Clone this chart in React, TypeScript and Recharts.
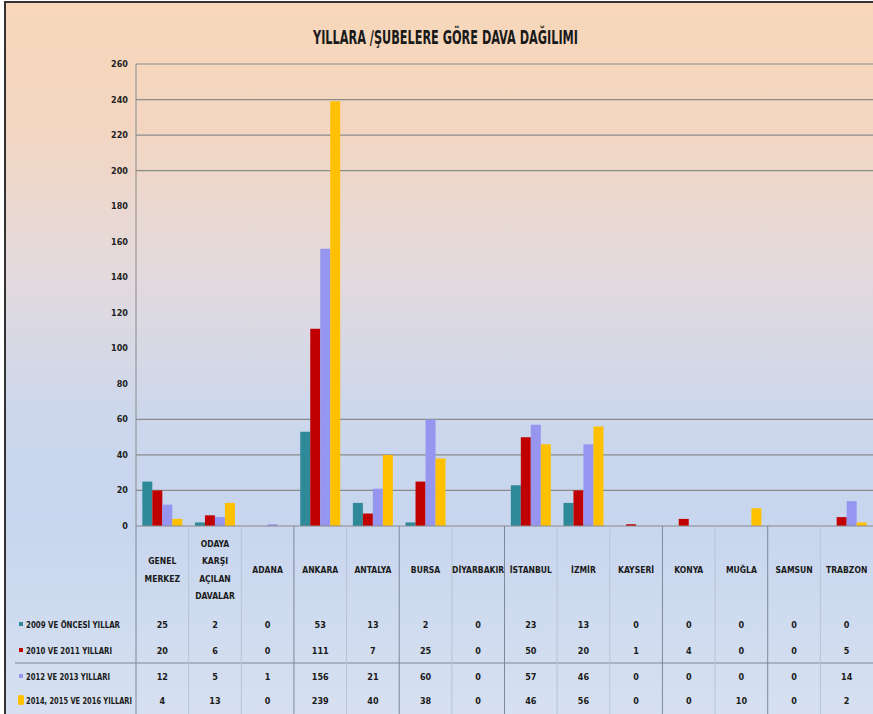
import React from 'react';
import { BarChart, Bar, XAxis, YAxis, CartesianGrid } from 'recharts';

const categories = [
  'GENEL MERKEZ',
  'ODAYA KARŞI AÇILAN DAVALAR',
  'ADANA',
  'ANKARA',
  'ANTALYA',
  'BURSA',
  'DİYARBAKIR',
  'İSTANBUL',
  'İZMİR',
  'KAYSERİ',
  'KONYA',
  'MUĞLA',
  'SAMSUN',
  'TRABZON',
];
const series2009 = [25, 2, 0, 53, 13, 2, 0, 23, 13, 0, 0, 0, 0, 0];
const series2010 = [20, 6, 0, 111, 7, 25, 0, 50, 20, 1, 4, 0, 0, 5];
const series2012 = [12, 5, 1, 156, 21, 60, 0, 57, 46, 0, 0, 0, 0, 14];
const series2014 = [4, 13, 0, 239, 40, 38, 0, 46, 56, 0, 0, 10, 0, 2];
const seriesNames = [
  '2009 VE ÖNCESİ YILLAR',
  '2010 VE 2011 YILLARI',
  '2012 VE 2013 YILLARI',
  '2014, 2015 VE 2016 YILLARI',
];
const yTicks = [0, 20, 40, 60, 80, 100, 120, 140, 160, 180, 200, 220, 240, 260];
const gridValues = [20, 40, 60, 200, 220, 240, 260];
const titleText = 'YILLARA /ŞUBELERE GÖRE DAVA DAĞILIMI';

const seriesValues = [series2009, series2010, series2012, series2014];
const seriesKeys = ['s2009', 's2010', 's2012', 's2014'];
const colors = ['#2E8A99', '#C00000', '#9696F0', '#FFC000'];

const data = categories.map((name, i) => ({
  name,
  s2009: series2009[i],
  s2010: series2010[i],
  s2012: series2012[i],
  s2014: series2014[i],
}));

const W = 873;
const H = 714;
const PLOT_TOP = 64;
const PLOT_LEFT = 136;
const X_AXIS_H = 188;
const PLOT_BOTTOM = H - X_AXIS_H;
const CAT_W = (W - PLOT_LEFT) / categories.length;
const ROW_Y = [628, 654, 680, 704];
const HEADER_W = [94, 86, 84, 106];
const DARK_DIVIDERS = [0, 3, 5, 7, 10, 12];
const FONT = "'Liberation Sans Narrow', 'DejaVu Sans Condensed', Roboto, 'Liberation Sans', sans-serif";

function YTick(props: any) {
  const { x, y, payload } = props;
  return (
    <text x={x} y={y + 3} textAnchor="end" fontSize={9} fontWeight={700} fill="#222" fontFamily={FONT}>
      {payload.value}
    </text>
  );
}

function TableTick(props: any) {
  const { x, index } = props;
  const name = categories[index];
  const lines = name.split(' ');
  const left = x - CAT_W / 2;
  const dark = DARK_DIVIDERS.includes(index);
  const step = 17.5;
  const firstY = 570 - ((lines.length - 1) * step) / 2;
  return (
    <g>
      <line x1={left} x2={left} y1={PLOT_BOTTOM} y2={H} stroke={dark ? '#7d889a' : '#b8c3d5'} strokeWidth={1} />
      {lines.map((ln, k) => (
        <text
          key={k}
          x={x}
          y={firstY + k * step + 3}
          textAnchor="middle"
          fontSize={8.5}
          fontWeight={700}
          fill="#1a1a1a"
          fontFamily={FONT}
        >
          {ln}
        </text>
      ))}
      {seriesValues.map((arr, r) => (
        <text
          key={'v' + r}
          x={x}
          y={ROW_Y[r]}
          textAnchor="middle"
          fontSize={9}
          fontWeight={700}
          fill="#1a1a1a"
          fontFamily={FONT}
        >
          {arr[index]}
        </text>
      ))}
      {index === 0 && (
        <g>
          <line x1={15} x2={W} y1={663} y2={663} stroke="#7d889a" strokeWidth={1} />
          {seriesNames.map((nm, r) => (
            <g key={'h' + r}>
              {r === 3 ? (
                <rect x={18} y={ROW_Y[r] - 9} width={6} height={10} rx={2} fill={colors[r]} />
              ) : (
                <rect x={19} y={ROW_Y[r] - 6} width={4} height={4} fill={colors[r]} />
              )}
              <text
                x={26}
                y={ROW_Y[r]}
                fontSize={9}
                fontWeight={700}
                fill="#1a1a1a"
                fontFamily={FONT}
                textLength={HEADER_W[r]}
                lengthAdjust="spacingAndGlyphs"
              >
                {nm}
              </text>
            </g>
          ))}
        </g>
      )}
    </g>
  );
}

export default function App() {
  return (
    <div style={{ position: 'absolute', left: 0, top: 0, width: W, height: H, background: '#fff', overflow: 'hidden' }}>
      <div
        style={{
          position: 'absolute',
          left: 4,
          top: 1,
          right: 0,
          bottom: 0,
          borderLeft: '2px solid #333',
          borderTop: '2px solid #333',
          background:
            'linear-gradient(180deg, #F8D7B9 0%, #F2D6C2 18%, #E3DADD 38%, #CCD7EC 58%, #C7D5EE 72%, #D6E0F0 100%)',
        }}
      />
      <svg style={{ position: 'absolute', left: 0, top: 0 }} width={W} height={60}>
        <text
          x={445.5}
          y={44}
          textAnchor="middle"
          fontSize={19}
          fontWeight={700}
          fill="#1a1a1a"
          fontFamily={FONT}
          textLength={265}
          lengthAdjust="spacingAndGlyphs"
        >
          {titleText}
        </text>
      </svg>
      <div style={{ position: 'absolute', left: 0, top: 0 }}>
        <BarChart
          width={W}
          height={H}
          data={data}
          margin={{ top: PLOT_TOP, right: 0, bottom: 0, left: 0 }}
          barCategoryGap="12%"
          barGap={0}
        >
          <CartesianGrid vertical={false} horizontalValues={gridValues} stroke="#8a8a8a" strokeWidth={1.2} />
          <YAxis
            type="number"
            domain={[0, 260]}
            ticks={yTicks}
            interval={0}
            width={PLOT_LEFT}
            tickLine={false}
            axisLine={{ stroke: '#8a8a8a' }}
            tick={<YTick />}
          />
          <XAxis
            dataKey="name"
            interval={0}
            height={X_AXIS_H}
            tickLine={false}
            axisLine={{ stroke: '#8a8a8a' }}
            tick={<TableTick />}
          />
          {seriesKeys.map((k, i) => (
            <Bar key={k} dataKey={k} fill={colors[i]} isAnimationActive={false} />
          ))}
        </BarChart>
      </div>
    </div>
  );
}
